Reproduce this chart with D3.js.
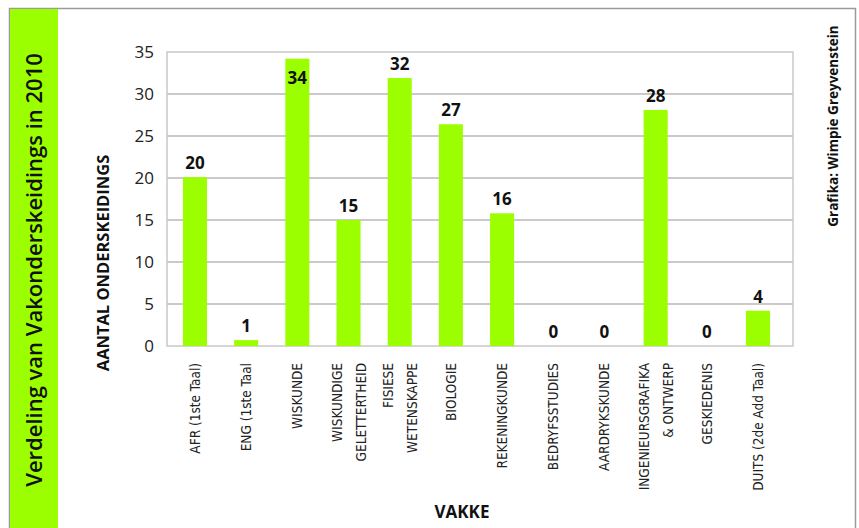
<!DOCTYPE html>
<html lang="en">
<head>
    <meta charset="UTF-8">
    <title>Vakonderskeidings 2010</title>
    <style>
        body { margin: 0; background: #fff; }
        svg { display: block; }
    </style>
</head>
<body>
    <div id="chart"></div>

    <script src="https://d3js.org/d3.v7.min.js"></script>
    <script>
        // data
        var vakke = ["AFR (1ste Taal)", "ENG (1ste Taal", "WISKUNDE", "WISKUNDIGE|GELETTERTHEID",
                     "FISIESE|WETENSKAPPE", "BIOLOGIE", "REKENINGKUNDE", "BEDRYFSSTUDIES",
                     "AARDRYKSKUNDE", "INGENIEURSGRAFIKA|& ONTWERP", "GESKIEDENIS", "DUITS (2de Add Taal)"];
        var waardes = [20.1, 0.7, 34.2, 15, 31.9, 26.4, 15.8, 0, 0, 28.1, 0, 4.2];
        var etikette = ["20", "1", "34", "15", "32", "27", "16", "0", "0", "28", "0", "4"];
        var yTicks = [0, 5, 10, 15, 20, 25, 30, 35];

        var W = 859, H = 528;
        var margin = {top: 52, right: 66, bottom: 182, left: 167},
            width = W - margin.left - margin.right,
            height = H - margin.top - margin.bottom;

        var svg = d3.select("#chart")
            .append("svg")
            .attr("width", W)
            .attr("height", H);

        // outer frame + green title band
        svg.append("path")
            .attr("d", "M9.5," + H + "V8.5H855.5V" + H)
            .attr("fill", "none")
            .attr("stroke", "#9a9a9a")
            .attr("stroke-width", 1.5);
        svg.append("rect")
            .attr("x", 10).attr("y", 9)
            .attr("width", 48).attr("height", H - 9)
            .attr("fill", "#9cff00");
        svg.append("text")
            .attr("transform", "translate(42,270) rotate(-90)")
            .attr("text-anchor", "middle")
            .style("font-family", "'Open Sans', sans-serif")
            .style("font-weight", "600")
            .style("font-size", "22px")
            .attr("fill", "#111")
            .text("Verdeling van Vakonderskeidings in 2010");

        svg.append("text")
            .attr("transform", "translate(838,126) rotate(-90)")
            .attr("text-anchor", "middle")
            .style("font-family", "'Open Sans', sans-serif")
            .style("font-weight", "700")
            .style("font-size", "13.5px")
            .attr("fill", "#111")
            .text("Grafika: Wimpie Greyvenstein");

        var g = svg.append("g")
            .attr("transform", "translate(" + margin.left + "," + margin.top + ")");

        var x = d3.scaleBand()
            .domain(vakke)
            .range([0, width])
            .paddingInner(0.53)
            .paddingOuter(0.38)
            .align(0.41);

        var y = d3.scaleLinear()
            .domain([0, 35])
            .range([height, 0]);

        // gridlines
        g.selectAll(".grid")
            .data(yTicks.filter(function(d) { return d > 0 && d < 35; }))
            .enter()
            .append("line")
            .attr("x1", 0).attr("x2", width)
            .attr("y1", function(d) { return y(d); })
            .attr("y2", function(d) { return y(d); })
            .attr("stroke", "#b8b8b8")
            .attr("stroke-width", 1.5);

        // plot border
        g.append("rect")
            .attr("width", width).attr("height", height)
            .attr("fill", "none")
            .attr("stroke", "#c8c8c8")
            .attr("stroke-width", 1.5);

        // y axis
        var yAxis = g.append("g")
            .call(d3.axisLeft(y).tickValues(yTicks).tickSize(0).tickPadding(13));
        yAxis.select(".domain").remove();
        yAxis.selectAll("text")
            .style("font-family", "'Open Sans', sans-serif")
            .style("font-size", "17px")
            .attr("fill", "#222");

        // bars
        g.selectAll(".bar")
            .data(waardes)
            .enter()
            .append("rect")
            .attr("x", function(d, i) { return x(vakke[i]); })
            .attr("y", function(d) { return y(d); })
            .attr("width", x.bandwidth())
            .attr("height", function(d) { return height - y(d); })
            .attr("fill", "#9cff00");

        // value labels (34 sits inside the bar, as in the original)
        g.selectAll(".lbl")
            .data(waardes)
            .enter()
            .append("text")
            .attr("x", function(d, i) { return x(vakke[i]) + x.bandwidth() / 2; })
            .attr("y", function(d) { return d > 33 ? y(d) + 25 : y(d) - 8; })
            .attr("text-anchor", "middle")
            .style("font-family", "'Open Sans', sans-serif")
            .style("font-weight", "700")
            .style("font-size", "17px")
            .attr("fill", "#111")
            .text(function(d, i) { return etikette[i]; });

        // category labels, rotated
        var cat = g.selectAll(".cat")
            .data(vakke)
            .enter()
            .append("text")
            .attr("transform", function(d) {
                var n = d.split("|").length;
                var cx = x(d) + x.bandwidth() / 2 - (n - 1) * 12 + 5;
                return "translate(" + cx + "," + (height + 17) + ") rotate(-90)";
            })
            .attr("text-anchor", "end")
            .style("font-family", "'DejaVu Sans Condensed', 'DejaVu Sans', sans-serif")
            .style("font-size", "13.5px")
            .attr("fill", "#222");
        cat.selectAll("tspan")
            .data(function(d) { return d.split("|"); })
            .enter()
            .append("tspan")
            .attr("x", 0)
            .attr("y", function(d, i) { return i * 24; })
            .text(function(d) { return d; });

        // axis titles
        svg.append("text")
            .attr("transform", "translate(109,263) rotate(-90)")
            .attr("text-anchor", "middle")
            .style("font-family", "'Open Sans', sans-serif")
            .style("font-weight", "700")
            .style("font-size", "16.5px")
            .attr("fill", "#111")
            .text("AANTAL ONDERSKEIDINGS");

        svg.append("text")
            .attr("x", 462).attr("y", 518)
            .attr("text-anchor", "middle")
            .style("font-family", "'Open Sans', sans-serif")
            .style("font-weight", "700")
            .style("font-size", "17px")
            .attr("fill", "#111")
            .text("VAKKE");
    </script>
</body>
</html>
